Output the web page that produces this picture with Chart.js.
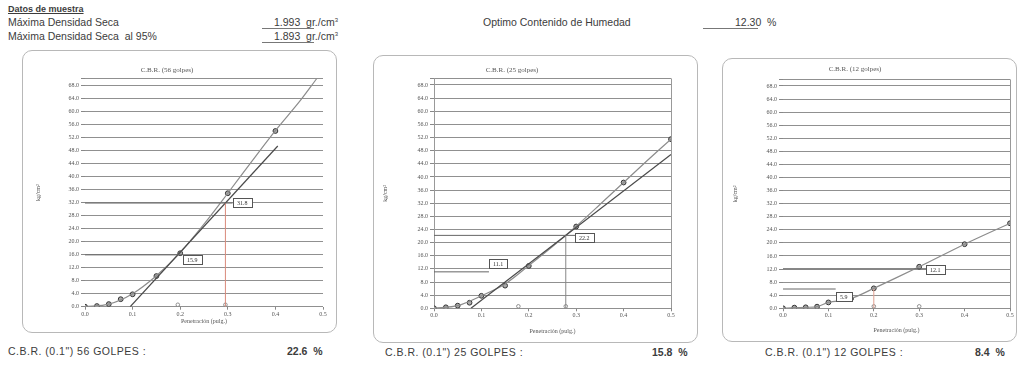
<!DOCTYPE html>
<html>
<head>
<meta charset="utf-8">
<script src="https://cdn.jsdelivr.net/npm/chart.js@4/dist/chart.umd.min.js"></script>
<style>
  body { margin: 0; background: #fff; font-family: "Liberation Sans", Arial, sans-serif; color: #3c3c3c; }
  #page { position: relative; width: 1021px; height: 370px; overflow: hidden; }
  .t { position: absolute; white-space: nowrap; font-size: 10.5px; line-height: 12px; }
  .ul { position: absolute; height: 0; border-top: 1px solid #777; }
  .box { position: absolute; border: 1px solid #b8b8b8; border-radius: 10px; box-sizing: border-box; }
  canvas { position: absolute; }
  .ttl { position: absolute; white-space: nowrap; font-family: "Liberation Serif", serif; font-size: 7px; color: #555; transform: translateX(-50%); }
  .foot { position: absolute; white-space: nowrap; font-size: 10.5px; letter-spacing: 0.5px; }
  .pct { position: absolute; white-space: nowrap; font-size: 10.5px; font-weight: bold; }
</style>
</head>
<body>
<div id="page">
  <div class="t" style="left:8px;top:3px;font-size:9px;font-weight:bold;text-decoration:underline;">Datos de muestra</div>
  <div class="t" style="left:8px;top:16px;">Máxima Densidad Seca</div>
  <div class="t" style="left:8px;top:30px;">Máxima Densidad Seca&nbsp; al 95%</div>
  <div class="ul" style="left:262px;top:28px;width:52px;"></div>
  <div class="t" style="left:274px;top:16px;">1.993&nbsp; gr./cm<sup style="font-size:6px;line-height:0">3</sup></div>
  <div class="ul" style="left:262px;top:42px;width:52px;"></div>
  <div class="t" style="left:274px;top:30px;">1.893&nbsp; gr./cm<sup style="font-size:6px;line-height:0">3</sup></div>
  <div class="t" style="left:483px;top:16px;">Optimo Contenido de Humedad</div>
  <div class="ul" style="left:703px;top:28px;width:55px;"></div>
  <div class="t" style="left:735px;top:16px;">12.30&nbsp; %</div>

  <div class="box" style="left:22px;top:50px;width:315px;height:283px;"></div>
  <div class="box" style="left:373px;top:55px;width:325px;height:288px;"></div>
  <div class="box" style="left:722px;top:58px;width:295px;height:284px;"></div>

  <canvas id="c56" width="315" height="283" style="left:22px;top:50px;"></canvas>
  <canvas id="c25" width="325" height="288" style="left:373px;top:55px;"></canvas>
  <canvas id="c12" width="295" height="284" style="left:722px;top:58px;"></canvas>

  <div class="ttl" style="left:167px;top:66px;">C.B.R. (56 golpes)</div>
  <div class="ttl" style="left:512px;top:66px;">C.B.R. (25 golpes)</div>
  <div class="ttl" style="left:855px;top:65px;">C.B.R. (12 golpes)</div>

  <div class="foot" style="left:8px;top:345px;">C.B.R. (0.1") 56 GOLPES :</div>
  <div class="pct" style="left:287px;top:345px;">22.6&nbsp; %</div>
  <div class="foot" style="left:385px;top:346px;">C.B.R. (0.1") 25 GOLPES :</div>
  <div class="pct" style="left:652px;top:346px;">15.8&nbsp; %</div>
  <div class="foot" style="left:765px;top:346px;">C.B.R. (0.1") 12 GOLPES :</div>
  <div class="pct" style="left:975px;top:346px;">8.4&nbsp; %</div>
</div>

<script>
// Lecturas del ensayo: penetración (pulg.) y carga (kg/cm2)
const penetracion = [0, 0.025, 0.05, 0.075, 0.1, 0.15, 0.2, 0.3, 0.4, 0.5];
const carga56 = [0, 0.2, 0.8, 2.3, 3.8, 9.4, 16.4, 34.8, 53.9, null];
const carga25 = [0, 0.3, 0.8, 1.7, 3.8, 6.9, 12.9, 24.9, 38.3, 51.5];
const carga12 = [0, 0.2, 0.3, 0.5, 1.8, 3.0, 6.1, 12.7, 19.6, 26.0];

// Curvas trazadas
const curvaX56 = [0, 0.05, 0.1, 0.15, 0.2, 0.25, 0.3, 0.35, 0.4, 0.45, 0.487];
const curvaY56 = [0, 0.8, 4.0, 9.5, 16.6, 25.3, 34.8, 44.5, 54.0, 62.8, 70.0];
const curvaX25 = [0, 0.05, 0.1, 0.15, 0.2, 0.25, 0.3, 0.35, 0.4, 0.45, 0.5];
const curvaY25 = [0, 0.8, 3.8, 7.4, 13.0, 18.8, 25.0, 31.6, 38.3, 45.0, 51.5];
const curvaX12 = penetracion;
const curvaY12 = carga12;

// Rectas de corrección (tangente)
const tangX56 = [0.095, 0.405];
const tangY56 = [0, 49.3];
const tangX25 = [0.078, 0.5];
const tangY25 = [0, 46.8];

// Penetraciones corregidas y cargas corregidas (0.1" y 0.2")
const corrX56 = [0.195, 0.295];
const corrY56 = [15.9, 31.8];
const corrX25 = [0.178, 0.278];
const corrY25 = [11.1, 22.2];
const corrX12 = [0.2, 0.3];
const corrY12 = [5.9, 12.1];

// Ejes
const xTicks = [0, 0.1, 0.2, 0.3, 0.4, 0.5];
const yTicks = [0, 4, 8, 12, 16, 20, 24, 28, 32, 36, 40, 44, 48, 52, 56, 60, 64, 68];
const yMax = 70;

const pts = (xs, ys) => xs.map((x, i) => ({ x: x, y: ys[i] })).filter(p => p.y !== null);

const cajas = {
    id: 'cajas',
    afterDatasetsDraw(chart, args, opts) {
        const { ctx, scales: { x, y } } = chart;
        ctx.save();
        ctx.font = '6px "Liberation Serif"';
        ctx.textBaseline = 'middle';
        opts.items.forEach(it => {
            const px = Math.round(x.getPixelForValue(it.x));
            const py = Math.round(y.getPixelForValue(it.y));
            const w = Math.round(ctx.measureText(it.text).width) + 8;
            ctx.fillStyle = '#fff';
            ctx.fillRect(px, py - 5, w, 10);
            ctx.strokeStyle = '#555';
            ctx.lineWidth = 1;
            ctx.strokeRect(px + 0.5, py - 4.5, w, 9);
            ctx.fillStyle = '#333';
            ctx.fillText(it.text, px + 4, py + 0.5);
        });
        ctx.restore();
    }
};

function makeChart(id, cfg) {
    const datasets = [];
    // horizontal reference lines to the boxes
    cfg.corrY.forEach((v, i) => {
        datasets.push({ data: [{ x: 0, y: v }, { x: cfg.boxes[i].x, y: v }], borderColor: '#666', borderWidth: 1, pointRadius: 0, showLine: true });
    });
    // vertical reference line
    datasets.push({ data: [{ x: cfg.refX, y: 0 }, { x: cfg.refX, y: cfg.refY }], borderColor: cfg.refColor, borderWidth: 1, pointRadius: 0, showLine: true });
    if (cfg.tangX) {
        datasets.push({ data: pts(cfg.tangX, cfg.tangY), borderColor: '#4a4a4a', borderWidth: 1.2, pointRadius: 0, showLine: true });
    }
    datasets.push({ data: pts(cfg.curvaX, cfg.curvaY), borderColor: '#8c8c8c', borderWidth: 1.2, pointRadius: 0, showLine: true, tension: 0.3 });
    datasets.push({ data: pts(penetracion, cfg.carga), borderColor: '#333', backgroundColor: '#aaa', borderWidth: 1, pointRadius: 2.4, showLine: false });
    datasets.push({ data: cfg.corrX.map(x => ({ x: x, y: 0.6 })), borderColor: '#777', backgroundColor: '#fff', borderWidth: 0.8, pointRadius: 1.8, showLine: false });

    const tickFont = { family: '"Liberation Serif", serif', size: 6 };
    return new Chart(document.getElementById(id), {
        type: 'scatter',
        data: { datasets: datasets },
        options: {
            responsive: false,
            animation: false,
            devicePixelRatio: 1,
            layout: { padding: { left: 0, right: cfg.padR, top: cfg.padT, bottom: 0 } },
            plugins: { legend: { display: false }, tooltip: { enabled: false }, cajas: { items: cfg.boxes } },
            scales: {
                x: {
                    type: 'linear', min: 0, max: 0.5,
                    afterBuildTicks: s => { s.ticks = xTicks.map(v => ({ value: v })); },
                    afterFit: s => { s.height = cfg.axisH; },
                    ticks: { font: tickFont, color: '#555', padding: 1, maxRotation: 0, callback: v => v.toFixed(1) },
                    grid: {
                        color: c => (cfg.rightBorder && c.index === xTicks.length - 1) ? '#999' : 'rgba(0,0,0,0)',
                        tickColor: '#888', tickLength: 3
                    },
                    border: { display: false },
                    title: { display: true, text: 'Penetración (pulg.)', font: tickFont, color: '#555', padding: { top: 0, bottom: 7.7 } }
                },
                y: {
                    min: 0, max: yMax,
                    afterBuildTicks: s => { s.ticks = yTicks.concat([yMax]).map(v => ({ value: v })); },
                    afterFit: s => { s.width = cfg.plotL; },
                    ticks: { autoSkip: false, font: tickFont, color: '#555', padding: 2, callback: v => v === yMax ? '' : v.toFixed(1) },
                    grid: { color: '#909090', lineWidth: 1, tickLength: 4, tickColor: '#888' },
                    border: { display: cfg.leftBorder, color: '#999' },
                    title: { display: true, text: 'kg/cm²', font: tickFont, color: '#555', padding: { top: cfg.yTitleX - 3.6, bottom: 0 } }
                }
            }
        },
        plugins: [cajas]
    });
}

makeChart('c56', {
    carga: carga56, curvaX: curvaX56, curvaY: curvaY56, tangX: tangX56, tangY: tangY56,
    corrX: corrX56, corrY: corrY56, refX: corrX56[1], refY: corrY56[1], refColor: '#d98a7a',
    boxes: [{ x: 0.205, y: 14.3, text: String(corrY56[0]) }, { x: 0.31, y: 31.9, text: String(corrY56[1]) }],
    plotL: 63, padR: 14, padT: 28.5, axisH: 26.3, yTitleX: 16, leftBorder: false, rightBorder: false
});
makeChart('c25', {
    carga: carga25, curvaX: curvaX25, curvaY: curvaY25, tangX: tangX25, tangY: tangY25,
    corrX: corrX25, corrY: corrY25, refX: corrX25[1], refY: corrY25[1], refColor: '#888',
    boxes: [{ x: 0.116, y: 13.5, text: String(corrY25[0]) }, { x: 0.298, y: 21.3, text: String(corrY25[1]) }],
    plotL: 61, padR: 27, padT: 23.4, axisH: 34.7, yTitleX: 12, leftBorder: true, rightBorder: true
});
makeChart('c12', {
    carga: carga12, curvaX: curvaX12, curvaY: curvaY12, tangX: null, tangY: null,
    corrX: corrX12, corrY: corrY12, refX: corrX12[0], refY: corrY12[0], refColor: '#e0a090',
    boxes: [{ x: 0.116, y: 3.5, text: String(corrY12[0]) }, { x: 0.315, y: 11.7, text: String(corrY12[1]) }],
    plotL: 61, padR: 7, padT: 21.4, axisH: 33.7, yTitleX: 13, leftBorder: false, rightBorder: true
});
</script>
</body>
</html>
